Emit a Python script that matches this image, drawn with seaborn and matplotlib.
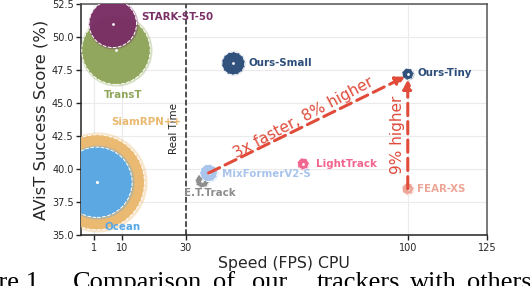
import matplotlib
matplotlib.use("Agg")
import matplotlib.pyplot as plt
import seaborn as sns

# ==== data ====
trackers = ["TransT", "STARK-ST-50", "SiamRPN++", "Ocean", "E.T.Track",
            "MixFormerV2-S", "LightTrack", "FEAR-XS", "Ours-Small", "Ours-Tiny"]
fps = [8, 7, 2, 2, 35.2, 37.2, 67, 100, 45, 100]
score = [49.0, 51.0, 39.0, 39.0, 39.1, 39.7, 40.4, 38.5, 48.0, 47.2]
bubble_px = [36, 25, 50, 37, 7, 9, 6, 6, 12, 6]  # bubble radius in pixels
colors = ["#8fa65a", "#7a3066", "#eab86f", "#59a8e6", "#8c8c8c",
          "#a9c4ec", "#f2648e", "#eda596", "#2d4e7b", "#2d4e7b"]

label_x = [4.3, 15.9, 6.5, 4.4, 29.4, 41.3, 71, 103, 49.7, 103]
label_y = [45.6, 51.5, 43.6, 35.6, 38.2, 39.6, 40.4, 38.5, 48.0, 47.3]

x_ticks = [1, 10, 30, 100, 125]
y_ticks = [35.0, 37.5, 40.0, 42.5, 45.0, 47.5, 50.0, 52.5]

caption_words = ["Figure 1.", "Comparison", "of", "our", "trackers", "with", "others"]

red = "#e04b3a"

sns.set_theme(style="whitegrid")
plt.rcParams["font.family"] = ["DejaVu Sans"]

fig = plt.figure(figsize=(5.3, 2.86), dpi=100)
ax = fig.add_axes([0.153, 0.178, 0.766, 0.808])

px_to_pt = 72 / 100
for x, y, r, c in zip(fps, score, bubble_px, colors):
    d = 2 * r * px_to_pt
    # soft halo, body with white dashed ring, center dot
    sns.scatterplot(x=[x], y=[y], s=d ** 2, color=c, alpha=0.35, linewidth=0, ax=ax, zorder=3)
    sns.scatterplot(x=[x], y=[y], s=(d * 0.95) ** 2, color=c, alpha=0.97, edgecolor="white",
                    linewidth=0.7, linestyle="--", ax=ax, zorder=3)
    sns.scatterplot(x=[x], y=[y], s=4, color="white", linewidth=0, ax=ax, zorder=4)

for name, lx, ly, c in zip(trackers, label_x, label_y, colors):
    ax.text(lx, ly, name, color=c, fontsize=7.4, fontweight="bold", ha="left", va="center", zorder=5)

# real time line
ax.axvline(30, color="#222222", linestyle="--", linewidth=1.1, zorder=2)
ax.text(28.0, 43.1, "Real Time", rotation=90, fontsize=7.5, ha="right", va="center", color="#222222")

# arrows
ax.annotate("", xy=(99.2, 47.0), xytext=(37.2, 39.7),
            arrowprops=dict(arrowstyle="-|>", color=red, lw=2.2, linestyle=(0, (4, 2)),
                            mutation_scale=14, shrinkA=0, shrinkB=0), zorder=6)
ax.annotate("", xy=(100, 46.8), xytext=(100, 38.5),
            arrowprops=dict(arrowstyle="-|>", color=red, lw=2.2, linestyle=(0, (4, 2)),
                            mutation_scale=14, shrinkA=0, shrinkB=0), zorder=6)
ax.text(67.0, 43.9, "3x faster, 8% higher", color=red, fontsize=11, rotation=28,
        ha="center", va="center", rotation_mode="anchor", zorder=6)
ax.text(96.8, 42.6, "9% higher", color=red, fontsize=11, rotation=90,
        ha="center", va="center", zorder=6)

ax.set_xlim(-3, 125)
ax.set_ylim(35, 52.5)
ax.set_xticks(x_ticks)
ax.set_yticks(y_ticks)
ax.set_xticklabels([str(t) for t in x_ticks])
ax.set_yticklabels([f"{t:.1f}" for t in y_ticks])
ax.tick_params(axis="both", labelsize=7, length=3.5, width=1, color="#222222", pad=2, direction="out")
ax.tick_params(bottom=True, left=True)
ax.grid(color="#ebebeb", linewidth=0.8)
ax.set_axisbelow(True)
for side in ["left", "bottom"]:
    ax.spines[side].set_color("#222222")
    ax.spines[side].set_linewidth(1.1)
for side in ["top", "right"]:
    ax.spines[side].set_color("#555555")
    ax.spines[side].set_linewidth(1.1)

ax.set_xlabel("Speed (FPS) CPU", fontsize=11.3, labelpad=2)
ax.set_ylabel("AVisT Success Score (%)", fontsize=11.8, labelpad=2)

# caption from the page, cut by the crop
caption_x = [45, 73, 213, 252, 317, 410, 467]
for i, (w, cx) in enumerate(zip(caption_words, caption_x)):
    fig.text(cx / 530, 1 - 289 / 286, w, fontsize=19, family=["Liberation Serif", "DejaVu Serif"],
             ha="right" if i == 0 else "left", va="baseline", color="black")

fig.savefig("out.png", dpi=100)
